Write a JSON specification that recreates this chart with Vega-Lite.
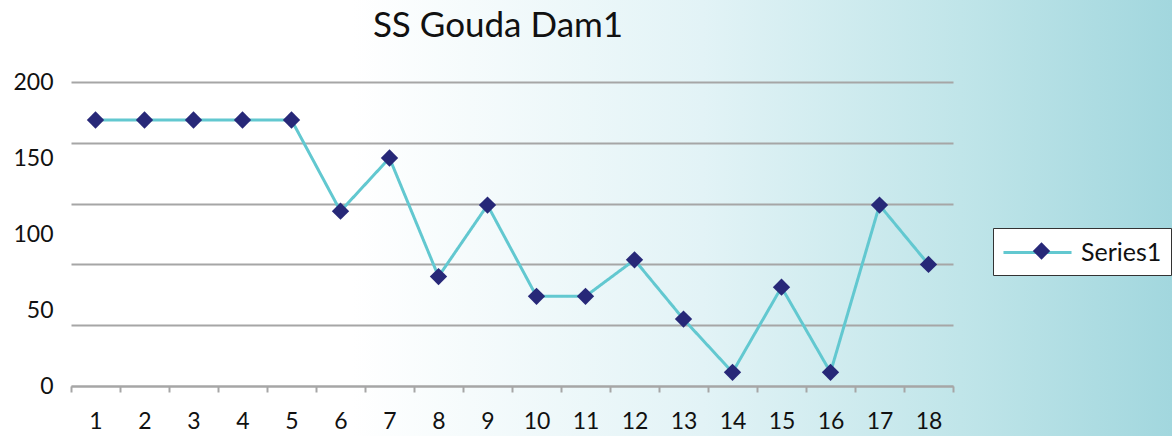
{
  "$schema": "https://vega.github.io/schema/vega-lite/v6.json",
  "width": 1172,
  "height": 436,
  "autosize": {"type": "none"},
  "padding": 0,
  "background": "#ffffff",
  "view": {
    "stroke": null,
    "fill": {
      "gradient": "linear",
      "x1": 0, "y1": 0, "x2": 1, "y2": 0,
      "stops": [
        {"offset": 0, "color": "#ffffff"},
        {"offset": 0.3, "color": "#ffffff"},
        {"offset": 0.6, "color": "#e2f3f6"},
        {"offset": 0.82, "color": "#c0e5e9"},
        {"offset": 1, "color": "#a2d7de"}
      ]
    }
  },
  "title": {
    "text": "SS Gouda Dam1",
    "font": "Lato",
    "fontSize": 35,
    "fontWeight": "normal",
    "color": "#111111",
    "anchor": "middle",
    "dx": -88,
    "dy": 32,
    "offset": -40,
    "baseline": "alphabetic"
  },
  "data": {
    "values": [
      {"x": 1, "v": 175, "s": "Series1", "series": "Series1"},
      {"x": 2, "v": 175, "s": "Series1", "series": "Series1"},
      {"x": 3, "v": 175, "s": "Series1", "series": "Series1"},
      {"x": 4, "v": 175, "s": "Series1", "series": "Series1"},
      {"x": 5, "v": 175, "s": "Series1", "series": "Series1"},
      {"x": 6, "v": 115, "s": "Series1", "series": "Series1"},
      {"x": 7, "v": 150, "s": "Series1", "series": "Series1"},
      {"x": 8, "v": 72, "s": "Series1", "series": "Series1"},
      {"x": 9, "v": 119, "s": "Series1", "series": "Series1"},
      {"x": 10, "v": 59, "s": "Series1", "series": "Series1"},
      {"x": 11, "v": 59, "s": "Series1", "series": "Series1"},
      {"x": 12, "v": 83, "s": "Series1", "series": "Series1"},
      {"x": 13, "v": 44, "s": "Series1", "series": "Series1"},
      {"x": 14, "v": 9, "s": "Series1", "series": "Series1"},
      {"x": 15, "v": 65, "s": "Series1", "series": "Series1"},
      {"x": 16, "v": 9, "s": "Series1", "series": "Series1"},
      {"x": 17, "v": 119, "s": "Series1", "series": "Series1"},
      {"x": 18, "v": 80, "s": "Series1", "series": "Series1"}
    ]
  },
  "encoding": {
    "x": {
      "field": "x",
      "type": "ordinal",
      "scale": {"type": "band", "range": [71, 953], "paddingInner": 0, "paddingOuter": 0},
      "axis": {
        "orient": "bottom",
        "offset": -50,
        "title": null,
        "labelAngle": 0,
        "labelFont": "Lato",
        "labelFontSize": 23,
        "labelColor": "#111111",
        "labelPadding": 18,
        "domainColor": "#a6a6a6",
        "domainWidth": 2,
        "tickColor": "#a6a6a6",
        "tickWidth": 2,
        "tickSize": 6,
        "tickBand": "extent",
        "grid": false
      }
    }
  },
  "layer": [
    {
      "mark": {"type": "line", "color": "#62c8d0", "strokeWidth": 3},
      "encoding": {
        "y": {
          "field": "v",
          "type": "quantitative",
          "scale": {"domain": [0, 200], "range": [386, 82], "nice": false},
          "axis": {
            "orient": "left",
            "offset": -71,
            "title": null,
            "values": [0, 40, 80, 120, 160, 200],
            "labels": false,
            "ticks": false,
            "domain": false,
            "grid": true,
            "gridColor": "#a6a6a6",
            "gridWidth": 2
          }
        },
        "strokeDash": {
          "field": "s",
          "type": "nominal",
          "scale": {"range": [[1, 0]]},
          "legend": {
            "orient": "none",
            "legendX": 993,
            "legendY": 228,
            "title": null,
            "padding": 9,
            "fillColor": "#ffffff",
            "strokeColor": "#333333",
            "cornerRadius": 0,
            "symbolType": "M-2.43,0H2.43",
            "symbolSize": 784,
            "symbolOffset": 20,
            "symbolStrokeWidth": 3,
            "symbolStrokeColor": "#62c8d0",
            "symbolOpacity": 1,
            "labelFont": "Lato",
            "labelFontSize": 25,
            "labelColor": "#111111",
            "labelOffset": 28
          }
        }
      }
    },
    {
      "mark": {"type": "point", "filled": true, "size": 300, "opacity": 1, "color": "#272878"},
      "encoding": {
        "y": {
          "field": "v",
          "type": "quantitative",
          "axis": {
            "orient": "left",
            "offset": -71,
            "title": null,
            "values": [0, 50, 100, 150, 200],
            "labelFont": "Lato",
            "labelFontSize": 23,
            "labelColor": "#111111",
            "labelPadding": 18,
            "ticks": false,
            "domain": false,
            "grid": false
          }
        },
        "shape": {
          "field": "series",
          "type": "nominal",
          "scale": {"range": ["diamond"]},
          "legend": {
            "orient": "none",
            "legendX": 993,
            "legendY": 228,
            "title": null,
            "padding": 9,
            "fillColor": "transparent",
            "strokeColor": "transparent",
            "symbolSize": 300,
            "symbolOffset": 25.5,
            "symbolStrokeWidth": 0,
            "symbolOpacity": 1,
            "labelFontSize": 28,
            "labelExpr": "''"
          }
        }
      }
    }
  ],
  "resolve": {"axis": {"y": "independent"}}
}
